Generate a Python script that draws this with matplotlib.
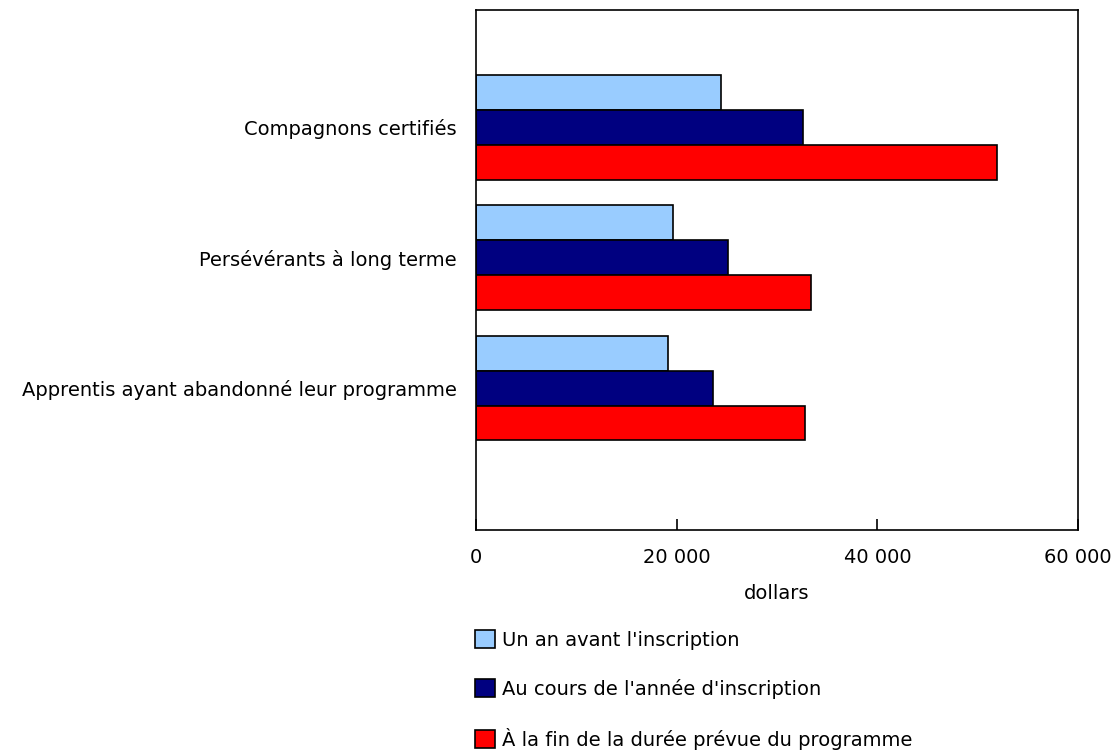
import matplotlib.pyplot as plt
import numpy as np

categories = ["Compagnons certifiés", "Persévérants à long terme",
              "Apprentis ayant abandonné leur programme"]
series_names = ["Un an avant l'inscription",
                "Au cours de l'année d'inscription",
                "À la fin de la durée prévue du programme"]
avant = [24400, 19600, 19100]
pendant = [32600, 25100, 23600]
fin = [51900, 33400, 32800]
colors = ["#99CCFF", "#000080", "#FF0000"]

fs = 14
fig = plt.figure(figsize=(11.15, 7.54), dpi=100)
ax = fig.add_axes([476/1115, 1-530/754, 602/1115, 520/754])

y = np.arange(len(categories))
h = 0.268
for i, (vals, c, name) in enumerate(zip([avant, pendant, fin], colors, series_names)):
    ax.barh(y + (i - 1) * h, vals, height=h, color=c, edgecolor="black",
            linewidth=1.2, label=name)

ax.set_yticks(y)
ax.set_yticklabels(categories, fontsize=fs)
ax.tick_params(axis="y", length=0, pad=14)
ax.set_ylim(2 + 1.088, -0.897)

ax.set_xlim(0, 60000)
ax.set_xticks([0, 20000, 40000, 60000])
ax.set_xticklabels(["0", "20 000", "40 000", "60 000"], fontsize=fs)
ax.tick_params(axis="x", direction="in", length=8, width=1.2, pad=13)
ax.set_xlabel("dollars", fontsize=fs, labelpad=12)
for s in ax.spines.values():
    s.set_linewidth(1.2)

handles, labels = ax.get_legend_handles_labels()
fig.legend(handles, labels, loc="upper left", bbox_to_anchor=(475/1115, 1-630/754),
           frameon=False, fontsize=fs, handlelength=1.05, handleheight=1.05,
           handletextpad=0.35, labelspacing=1.5, borderpad=0, borderaxespad=0)

fig.savefig("out.png", dpi=100)
